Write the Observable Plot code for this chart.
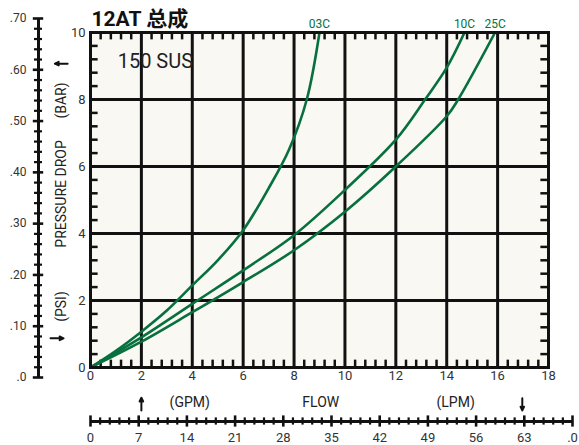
<!DOCTYPE html>
<html><head><meta charset="utf-8">
<script src="https://cdn.jsdelivr.net/npm/d3@7"></script>
<script src="https://cdn.jsdelivr.net/npm/@observablehq/plot@0.6"></script>
<style>
html,body{margin:0;padding:0;background:#fff;}
#wrap{position:relative;width:579px;height:445px;overflow:hidden;}
#wrap svg{position:absolute;left:0;background:transparent;}
</style></head><body><div id="wrap"></div>
<script>
// ---- data ----
const title = "12AT 总成";
const viscosityLabel = "150 SUS";
const seriesNames = ["03C", "10C", "25C"];
const flow03C = [0, 1, 2, 3, 4, 5, 6, 7, 7.8, 8.5, 9.0];
const psi03C  = [0, 0.5, 1.07, 1.7, 2.45, 3.2, 4.1, 5.35, 6.5, 8.0, 10.0];
const flow10C = [0, 2, 4, 6, 8, 10, 12, 13.15, 14, 14.7];
const psi10C  = [0, 0.9, 1.9, 2.9, 3.95, 5.3, 6.8, 8.0, 8.95, 10.0];
const flow25C = [0, 2, 4, 6, 8, 10, 12, 14, 14.45, 15.9];
const psi25C  = [0, 0.77, 1.65, 2.55, 3.5, 4.65, 6.0, 7.5, 8.0, 10.0];
const gpmTicks = [0, 2, 4, 6, 8, 10, 12, 14, 16, 18];
const psiTicks = [0, 2, 4, 6, 8, 10];
const barTickValues = [0, 0.1, 0.2, 0.3, 0.4, 0.5, 0.6, 0.7];
const barTickLabels = [".0", ".10", ".20", ".30", ".40", ".50", ".60", ".70"];
const lpmTickValues = [0, 7, 14, 21, 28, 35, 42, 49, 56, 63, 70];
const lpmTickLabels = ["0", "7", "14", "21", "28", "35", "42", "49", "56", "63", ".0"];
const yAxisTitle = "PRESSURE DROP";
const barUnit = "(BAR)";
const psiUnit = "(PSI)";
const gpmUnit = "(GPM)";
const flowTitle = "FLOW";
const lpmUnit = "(LPM)";

// ---- build ----
const ink = "#111";
const textInk = "#333";
const green = "#07703e";
const font = "Roboto, 'Noto Sans CJK SC', sans-serif";

const seriesData = [
  {name: seriesNames[0], flow: flow03C, psi: psi03C},
  {name: seriesNames[1], flow: flow10C, psi: psi10C},
  {name: seriesNames[2], flow: flow25C, psi: psi25C}
];
const rows = seriesData.flatMap(s => s.flow.map((f, i) => ({series: s.name, flow: f, psi: s.psi[i]})));
const ends = seriesData.map(s => ({name: s.name, flow: s.flow[s.flow.length - 1], psi: s.psi[s.psi.length - 1]}));

const majorGridX = gpmTicks.filter(v => v > 0 && v < 18);
const majorGridY = psiTicks.filter(v => v > 0 && v < 10);
const minorX = d3.range(1, 45).filter(i => i % 5).map(i => +(i * 0.4).toFixed(2));
const minorY = d3.range(1, 25).filter(i => i % 5).map(i => +(i * 0.4).toFixed(2));

const wrap = document.getElementById("wrap");

const main = Plot.plot({
  width: 579, height: 445,
  marginLeft: 90, marginRight: 31, marginTop: 32, marginBottom: 78,
  x: {domain: [0, 18], axis: null},
  y: {domain: [0, 10], axis: null},
  style: {background: "transparent", fontFamily: font, overflow: "visible"},
  marks: [
    Plot.frame({fill: "#f9f8f3", stroke: "none"}),
    Plot.ruleX(majorGridX, {stroke: ink, strokeWidth: 3}),
    Plot.ruleY(majorGridY, {stroke: ink, strokeWidth: 3}),
    Plot.ruleX(minorX, {y1: 0, y2: 0.22, stroke: ink, strokeWidth: 2.5}),
    Plot.ruleX(minorX, {y1: 10, y2: 9.78, stroke: ink, strokeWidth: 2.5}),
    Plot.ruleY(minorY, {x1: 0, x2: 0.3, stroke: ink, strokeWidth: 2.5}),
    Plot.ruleY(minorY, {x1: 18, x2: 17.7, stroke: ink, strokeWidth: 2.5}),
    Plot.line(rows, {x: "flow", y: "psi", z: "series", stroke: green, strokeWidth: 2.6, curve: "catmull-rom", clip: true}),
    Plot.frame({stroke: ink, strokeWidth: 3}),
    Plot.text(ends, {x: "flow", y: "psi", text: "name", dy: -8, fill: green, fontSize: 12}),
    Plot.text([viscosityLabel], {x: 2.55, y: 9.13, text: d => d, fontSize: 20, fill: "#222"}),
    Plot.text([title], {x: 0, y: 10, text: d => d, textAnchor: "start", dy: -13, dx: 1, fontSize: 21, fontWeight: "bold", fill: "#111"}),
    Plot.text(gpmTicks, {x: d => d, frameAnchor: "bottom", dy: 12, text: d => String(d), fontSize: 13, fill: textInk}),
    Plot.text(psiTicks, {y: d => d, frameAnchor: "left", dx: -5, textAnchor: "end", text: d => String(d), fontSize: 13, fill: textInk}),
    Plot.text([{t: yAxisTitle, y: 5.18}, {t: barUnit, y: 7.97}, {t: psiUnit, y: 1.82}],
      {y: "y", text: "t", frameAnchor: "left", textAnchor: "middle", dx: -29, rotate: -90, fontSize: 14, fill: "#222"}),
    Plot.text([{t: gpmUnit, x: 3.9}, {t: flowTitle, x: 9.05}, {t: lpmUnit, x: 14.35}],
      {x: "x", text: "t", frameAnchor: "bottom", dy: 39, fontSize: 14, fill: "#222"}),
    Plot.arrow([{x1: -0.9, x2: -1.4, y: 9.07}, {x1: -1.57, x2: -1.06, y: 0.87}],
      {x1: "x1", x2: "x2", y1: "y", y2: "y", stroke: ink, strokeWidth: 2, headLength: 6, headAngle: 50}),
    Plot.arrow([{x: 2, y1: -1.28, y2: -0.9}, {x: 16.97, y1: -0.92, y2: -1.28}],
      {x1: "x", x2: "x", y1: "y1", y2: "y2", stroke: ink, strokeWidth: 2, headLength: 6, headAngle: 50})
  ]
});
main.style.top = "0px";
wrap.appendChild(main);

// ---- left BAR axis ----
const barMinor = d3.range(0, 36).filter(i => i % 5).map(i => +(i * 0.02).toFixed(3));
const barAxis = Plot.plot({
  width: 60, height: 445,
  marginLeft: 30, marginRight: 14, marginTop: 18, marginBottom: 68,
  x: {domain: [-1, 1], axis: null},
  y: {domain: [0, 0.7], axis: null},
  style: {background: "transparent", fontFamily: font, overflow: "visible"},
  marks: [
    Plot.ruleX([0], {y1: 0, y2: 0.7, stroke: ink, strokeWidth: 3}),
    Plot.ruleY(barMinor, {x1: -0.5, x2: 0.5, stroke: ink, strokeWidth: 2.2}),
    Plot.ruleY(barTickValues, {x1: -0.65, x2: 0.65, stroke: ink, strokeWidth: 2.6}),
    Plot.text(barTickValues, {y: d => d, x: -1, dx: -4, textAnchor: "end", text: (d, i) => barTickLabels[i], fontSize: 12, fill: textInk})
  ]
});
barAxis.style.top = "0px";
wrap.appendChild(barAxis);

// ---- bottom LPM axis ----
const lpmMinor = d3.range(0, 50).filter(i => i % 5).map(i => +(i * 1.4).toFixed(2));
const lpmAxis = Plot.plot({
  width: 579, height: 45,
  marginLeft: 90, marginRight: 7, marginTop: 13, marginBottom: 16,
  x: {domain: [0, 70], axis: null},
  y: {domain: [-1, 1], axis: null},
  style: {background: "transparent", fontFamily: font, overflow: "visible"},
  marks: [
    Plot.ruleY([0], {x1: 0, x2: 70, stroke: ink, strokeWidth: 3}),
    Plot.ruleX(lpmMinor, {y1: -0.45, y2: 0.45, stroke: ink, strokeWidth: 2.2}),
    Plot.ruleX(lpmTickValues, {y1: -0.7, y2: 0.7, stroke: ink, strokeWidth: 2.6}),
    Plot.text(lpmTickValues, {x: d => d, y: -1, dy: 8, text: (d, i) => lpmTickLabels[i], fontSize: 13, fill: textInk})
  ]
});
lpmAxis.style.top = "400px";
wrap.appendChild(lpmAxis);
</script></body></html>
